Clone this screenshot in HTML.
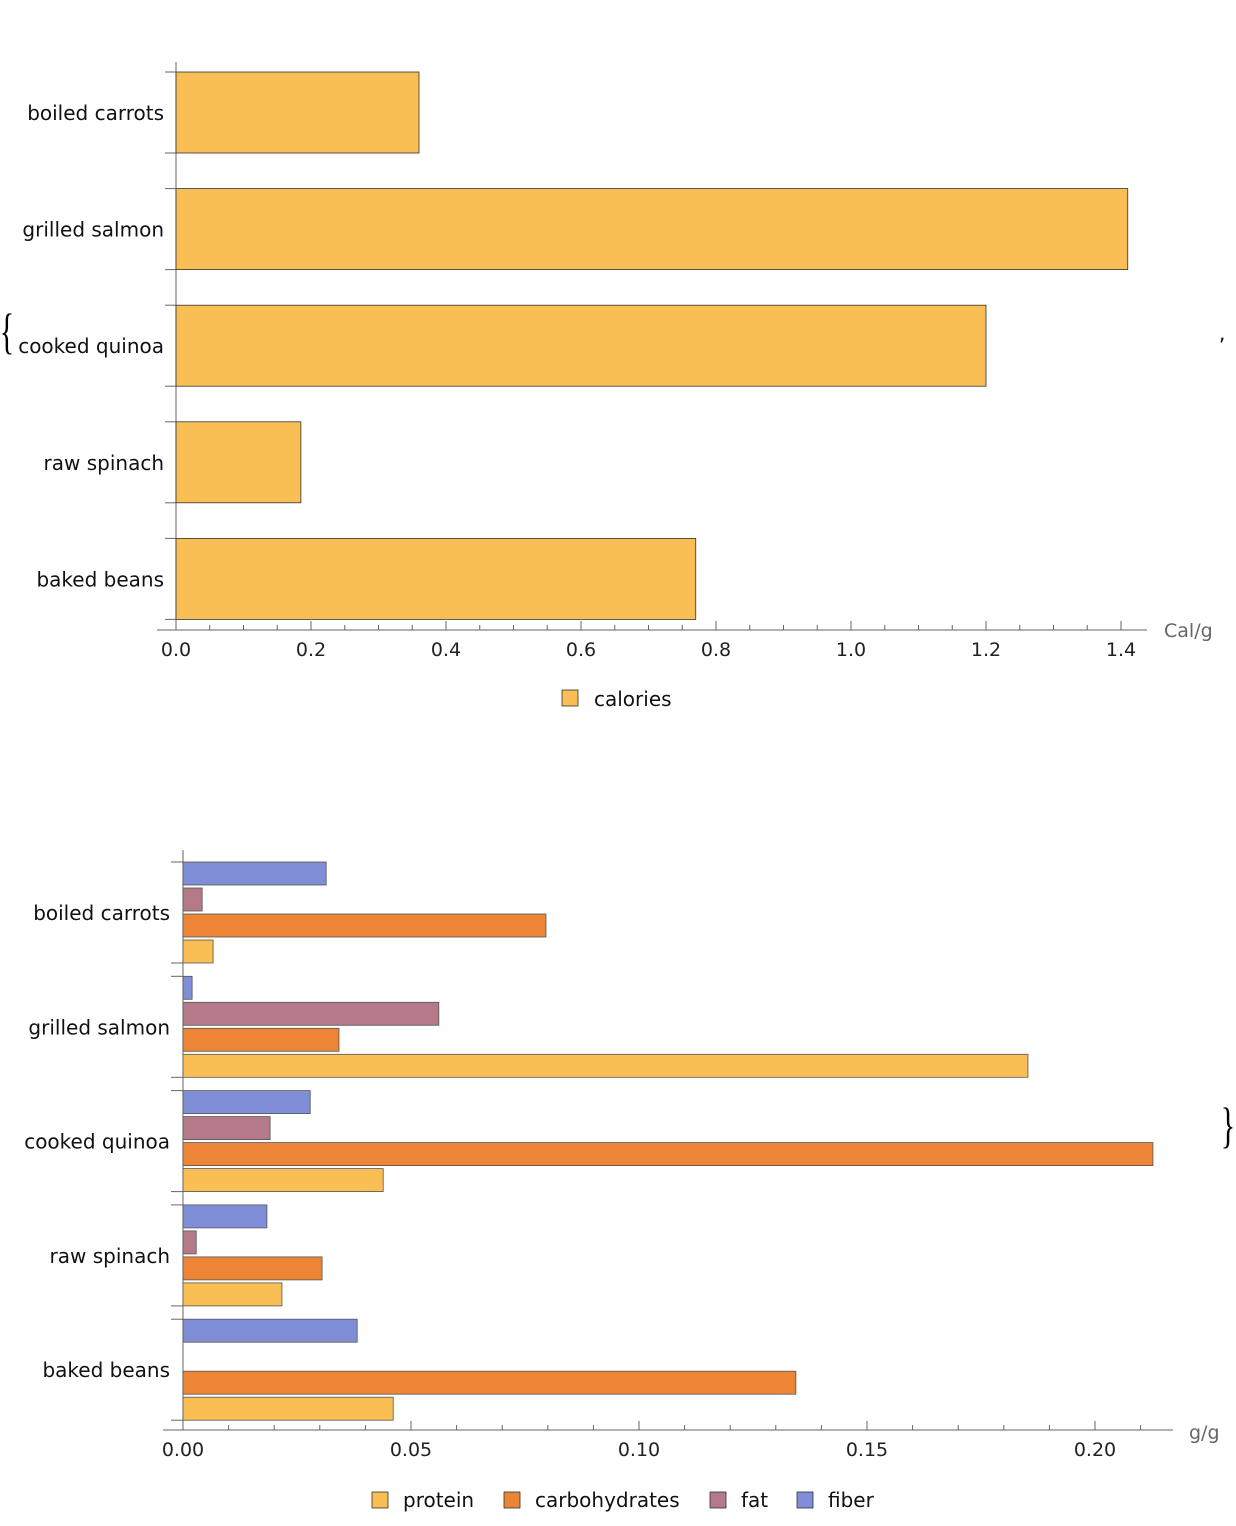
<!DOCTYPE html>
<html><head><meta charset="utf-8"><style>
body{margin:0;background:#fff}
svg{display:block;font-family:"DejaVu Sans","Liberation Sans",sans-serif}
</style></head><body>
<svg id="s" width="1236" height="1526" viewBox="0 0 1236 1526">
<text x="0" y="0" font-size="50" font-family="Liberation Serif,serif" text-anchor="middle" transform="translate(7,348) scale(0.6,1)">{</text>
<text x="1219" y="340" font-size="20">,</text>
<text x="0" y="0" font-size="50" font-family="Liberation Serif,serif" text-anchor="middle" transform="translate(1228,1142) scale(0.6,1)">}</text>
</svg>
<script>
const cats=["boiled carrots","grilled salmon","cooked quinoa","raw spinach","baked beans"];
const calories=[0.36,1.41,1.2,0.185,0.77];
const calTicks=["0.0","0.2","0.4","0.6","0.8","1.0","1.2","1.4"];
const protein=[0.0066,0.1853,0.0439,0.0217,0.0461];
const carbs=[0.0796,0.0342,0.2127,0.0305,0.1344];
const fat=[0.0042,0.0561,0.0191,0.0029,0];
const fiber=[0.0314,0.002,0.0279,0.0184,0.0382];
const gTicks=["0.00","0.05","0.10","0.15","0.20"];
const seriesNames=["protein","carbohydrates","fat","fiber"];
const colors=["#F9BE54","#EC8535","#B47A8A","#7F8ED6"];
const S=document.getElementById('s');const NS="http://www.w3.org/2000/svg";
function el(t,a,txt){const e=document.createElementNS(NS,t);for(const k in a)e.setAttribute(k,a[k]);if(txt!==undefined)e.textContent=txt;S.appendChild(e);return e;}
// chart 1
const x1=v=>176+v*675;
el('line',{x1:176,y1:62,x2:176,y2:630,stroke:'#666'});
el('line',{x1:157,y1:630,x2:1147,y2:630,stroke:'#666'});
for(let i=0;i<=28;i++){const v=i*0.05;const X=x1(v);el('line',{x1:X,y1:630,x2:X,y2:i%4==0?621:625,stroke:'#666'});}
calTicks.forEach(t=>{const e=el('text',{x:x1(+t),y:656,'font-size':19,'text-anchor':'middle',fill:'#222'},t);});
const ax1=el('text',{x:1164,y:637,'font-size':19,fill:'#666'},'Cal/g');
cats.forEach((c,i)=>{const top=72+i*116.6;
 el('line',{x1:165,y1:top,x2:176,y2:top,stroke:'#666'});el('line',{x1:165,y1:top+81,x2:176,y2:top+81,stroke:'#666'});
 const r=el('rect',{x:176,y:top,width:x1(calories[i])-176,height:81,fill:'#F9BE54',stroke:'#333','stroke-width':0.8});
 
 const t=el('text',{x:164,y:top+48,'font-size':20,'text-anchor':'end',fill:'#111'},c);});
el('rect',{x:562,y:690,width:16,height:16,fill:'#F9BE54',stroke:'#333','stroke-width':0.8});
const lg=el('text',{x:594,y:706,'font-size':20,fill:'#111'},'calories');
// chart 2
const x2=v=>183+v*4560;
el('line',{x1:183,y1:850,x2:183,y2:1430,stroke:'#666'});
el('line',{x1:163,y1:1430,x2:1173,y2:1430,stroke:'#666'});
for(let i=0;i<=21;i++){const X=x2(i*0.01);el('line',{x1:X,y1:1430,x2:X,y2:i%5==0?1421:1425,stroke:'#666'});}
gTicks.forEach(t=>{const e=el('text',{x:x2(+t),y:1456,'font-size':19,'text-anchor':'middle',fill:'#222'},t);});
const ax2=el('text',{x:1189,y:1439,'font-size':19,fill:'#666'},'g/g');
const ser=[fiber,fat,carbs,protein];const serCol=[colors[3],colors[2],colors[1],colors[0]];
cats.forEach((c,i)=>{const top=862+i*114.3;
 el('line',{x1:171,y1:top,x2:183,y2:top,stroke:'#666'});el('line',{x1:171,y1:top+101,x2:183,y2:top+101,stroke:'#666'});
 ser.forEach((arr,j)=>{if(arr[i]<=0)return;const r=el('rect',{x:183,y:top+j*26,width:x2(arr[i])-183,height:23,fill:serCol[j],stroke:'#555','stroke-width':0.8});
  });
 const t=el('text',{x:170,y:top+58,'font-size':20,'text-anchor':'end',fill:'#111'},c);});
const lx=[372,504,710,797];
seriesNames.forEach((n,i)=>{el('rect',{x:lx[i],y:1492,width:16,height:16,fill:colors[i],stroke:'#333','stroke-width':0.8});
 const t=el('text',{x:lx[i]+31,y:1507,'font-size':20,fill:'#111'},n);});
</script>
</body></html>
